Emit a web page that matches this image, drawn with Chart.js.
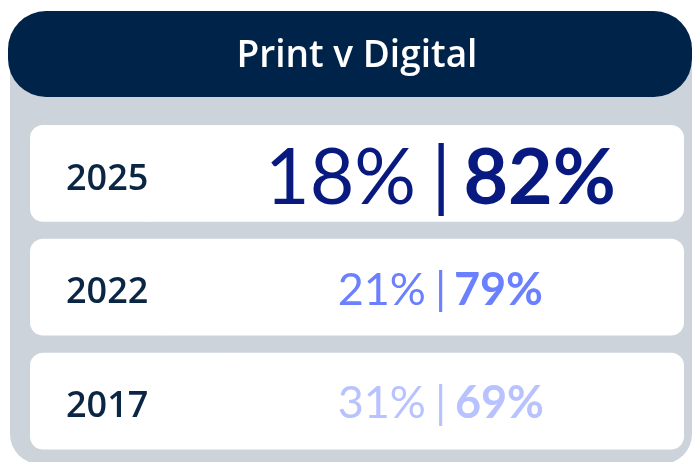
<!DOCTYPE html>
<html lang="en">
<head>
    <meta charset="UTF-8">
    <title>Print v Digital</title>
    <style>
        html, body { margin: 0; padding: 0; background: #ffffff; }
        #wrap { width: 692px; height: 462px; }
    </style>
</head>
<body>
    <div id="wrap">
        <canvas id="myChart" width="692" height="462"></canvas>
    </div>

    <script src="https://cdn.jsdelivr.net/npm/chart.js"></script>

    <script>
        // data
        let years = ['2025', '2022', '2017'];
        let printShare = [18, 21, 31];
        let digitalShare = [82, 79, 69];

        // one colour and text size per row
        let rowColors = ['#08197f', '#6a80ff', '#b8c2ff'];
        let rowSizes = [77, 45, 45];

        const NAVY = '#00234a';
        const PANEL = '#cdd3db';

        // grey card + dark header pill behind everything
        const backdrop = {
            id: 'backdrop',
            beforeDraw(chart) {
                const c = chart.ctx;
                c.save();
                c.fillStyle = PANEL;
                c.beginPath();
                c.roundRect(10, 40, 682, 424, 30);
                c.fill();
                c.fillStyle = NAVY;
                c.beginPath();
                c.roundRect(8, 11, 684, 86, 38);
                c.fill();
                c.restore();
            }
        };

        // "print% | digital%" written in each white row, placed by ink bounds
        const shares = {
            id: 'shares',
            afterDatasetsDraw(chart) {
                const c = chart.ctx;
                const xs = chart.scales.x;
                const ys = chart.scales.y;
                const mid = xs.getPixelForValue(62.85);
                c.save();
                c.textBaseline = 'alphabetic';
                c.textAlign = 'left';
                for (let i = 0; i < years.length; i++) {
                    const size = rowSizes[i];
                    const left = printShare[i] + '%';
                    const right = digitalShare[i] + '%';

                    c.fillStyle = rowColors[i];
                    c.font = '400 ' + size + 'px Lato';
                    const mL = c.measureText(left);
                    const digitH = mL.actualBoundingBoxAscent;
                    const base = ys.getPixelForValue(i) + digitH / 2 + size * 0.03;

                    // separator, its top a little above the digits
                    const mB = c.measureText('|');
                    const barInk = mB.actualBoundingBoxRight + mB.actualBoundingBoxLeft;
                    const barTop = base - digitH - size * 0.05;
                    c.fillText('|', mid - barInk / 2 + mB.actualBoundingBoxLeft, barTop + mB.actualBoundingBoxAscent);

                    // print share, ink ends left of the bar
                    c.fillText(left, mid - size * 0.36 - mL.actualBoundingBoxRight, base);

                    // digital share, bold, ink starts right of the bar
                    c.font = '700 ' + size + 'px Lato';
                    const mR = c.measureText(right);
                    c.fillText(right, mid + size * 0.33 + mR.actualBoundingBoxLeft, base);
                }
                c.restore();
            }
        };

        const ctx = document.getElementById('myChart');

        let datasets = [
            {
                label: 'Print',
                data: printShare,
                backgroundColor: '#ffffff',
                borderColor: '#ffffff',
                borderWidth: { right: 1 },
                inflateAmount: 1,
                borderSkipped: false,
                borderRadius: { topLeft: 13, bottomLeft: 13 },
                barPercentage: 0.85,
                categoryPercentage: 1,
            },
            {
                label: 'Digital',
                data: digitalShare,
                backgroundColor: '#ffffff',
                borderWidth: 0,
                borderSkipped: false,
                borderRadius: { topRight: 13, bottomRight: 13 },
                barPercentage: 0.85,
                categoryPercentage: 1,
            },
        ];

        let options = {
            responsive: false,
            animation: false,
            indexAxis: 'y',
            layout: {
                padding: { left: 30, right: 8, top: 0, bottom: 4 }
            },
            scales: {
                x: {
                    stacked: true,
                    min: 0,
                    max: 100,
                    display: false,
                },
                y: {
                    stacked: true,
                    grid: { display: false, drawTicks: false },
                    border: { display: false },
                    // labels sit inside the rows, so the axis takes no room
                    afterFit: s => {
                        s.width = 0;
                        s.paddingTop = 0;
                        s.paddingBottom = 0;
                    },
                    ticks: {
                        mirror: true,
                        z: 1,
                        padding: 36,
                        labelOffset: 6,
                        color: '#0b2545',
                        font: { family: 'Open Sans', size: 36, weight: '600' },
                    },
                },
            },
            plugins: {
                legend: { display: false },
                tooltip: { enabled: false },
                title: {
                    display: true,
                    text: 'Print v Digital',
                    color: '#ffffff',
                    font: { family: 'Open Sans', size: 37, weight: '600', lineHeight: 1.2 },
                    padding: { top: 34, bottom: 38 },
                },
            },
        };

        let chart = new Chart(ctx, {
            type: 'bar',
            data: {
                labels: years,
                datasets: datasets,
            },
            options: options,
            plugins: [backdrop, shares],
        });
    </script>
</body>
</html>
